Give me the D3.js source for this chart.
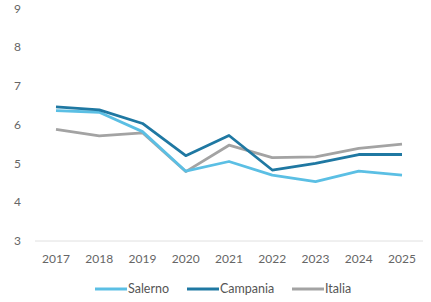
<!DOCTYPE html>
<html>
<head>
<meta charset="utf-8">
<script src="https://cdn.jsdelivr.net/npm/d3@7"></script>
<style>
  body { margin: 0; background: #fff; }
  text { font-family: "Source Sans Pro", Lato, "Open Sans", sans-serif; }
</style>
</head>
<body>
<div id="chart"></div>
<script>
// data
const years = [2017, 2018, 2019, 2020, 2021, 2022, 2023, 2024, 2025];
const salerno  = [6.36, 6.32, 5.82, 4.80, 5.05, 4.70, 4.53, 4.80, 4.70];
const campania = [6.46, 6.38, 6.03, 5.20, 5.72, 4.83, 5.00, 5.23, 5.23];
const italia   = [5.88, 5.71, 5.79, 4.79, 5.47, 5.15, 5.17, 5.39, 5.50];
const yTicks = [3, 4, 5, 6, 7, 8, 9];

const series = [
  { name: "Salerno",  values: salerno,  color: "#5bbfe4" },
  { name: "Campania", values: campania, color: "#1f78a2" },
  { name: "Italia",   values: italia,   color: "#a3a3a3" }
];

const width = 431, height = 302;

let svg = d3.select("#chart")
            .append("svg")
            .attr("width", width)
            .attr("height", height);

let x = d3.scalePoint()
          .domain(years)
          .range([56, 402]);

let y = d3.scaleLinear()
          .domain([3, 9])
          .range([241, 8.3]);

// baseline
svg.append("line")
   .attr("x1", 35).attr("x2", 423)
   .attr("y1", y(3)).attr("y2", y(3))
   .attr("stroke", "#e0e0e0")
   .attr("stroke-width", 1);

// y labels
svg.selectAll(".ylab")
   .data(yTicks)
   .join("text")
   .attr("class", "ylab")
   .attr("x", 21)
   .attr("y", d => y(d))
   .attr("dy", "0.35em")
   .attr("text-anchor", "end")
   .attr("font-size", 12)
   .attr("fill", "#666")
   .text(d => d);

// x labels
svg.selectAll(".xlab")
   .data(years)
   .join("text")
   .attr("class", "xlab")
   .attr("x", d => x(d))
   .attr("y", 259)
   .attr("dy", "0.35em")
   .attr("text-anchor", "middle")
   .attr("font-size", 12)
   .attr("fill", "#666")
   .text(d => d);

let line = d3.line()
             .x((d, i) => x(years[i]))
             .y(d => y(d));

// Italia drawn first, Campania on top
let order = [series[2], series[0], series[1]];
svg.selectAll(".series")
   .data(order)
   .join("path")
   .attr("class", "series")
   .attr("d", d => line(d.values))
   .attr("fill", "none")
   .attr("stroke", d => d.color)
   .attr("stroke-width", 2.8)
   .attr("stroke-linejoin", "round");

// legend
const legendX = [95, 187, 292];
let legend = svg.selectAll(".leg")
   .data(series)
   .join("g")
   .attr("class", "leg")
   .attr("transform", (d, i) => "translate(" + legendX[i] + ",289)");

legend.append("line")
      .attr("x1", 0).attr("x2", 32)
      .attr("stroke", d => d.color)
      .attr("stroke-width", 3);

legend.append("text")
      .attr("x", 33)
      .attr("dy", "0.35em")
      .attr("font-size", 12.5)
      .attr("fill", "#555")
      .text(d => d.name);
</script>
</body>
</html>
